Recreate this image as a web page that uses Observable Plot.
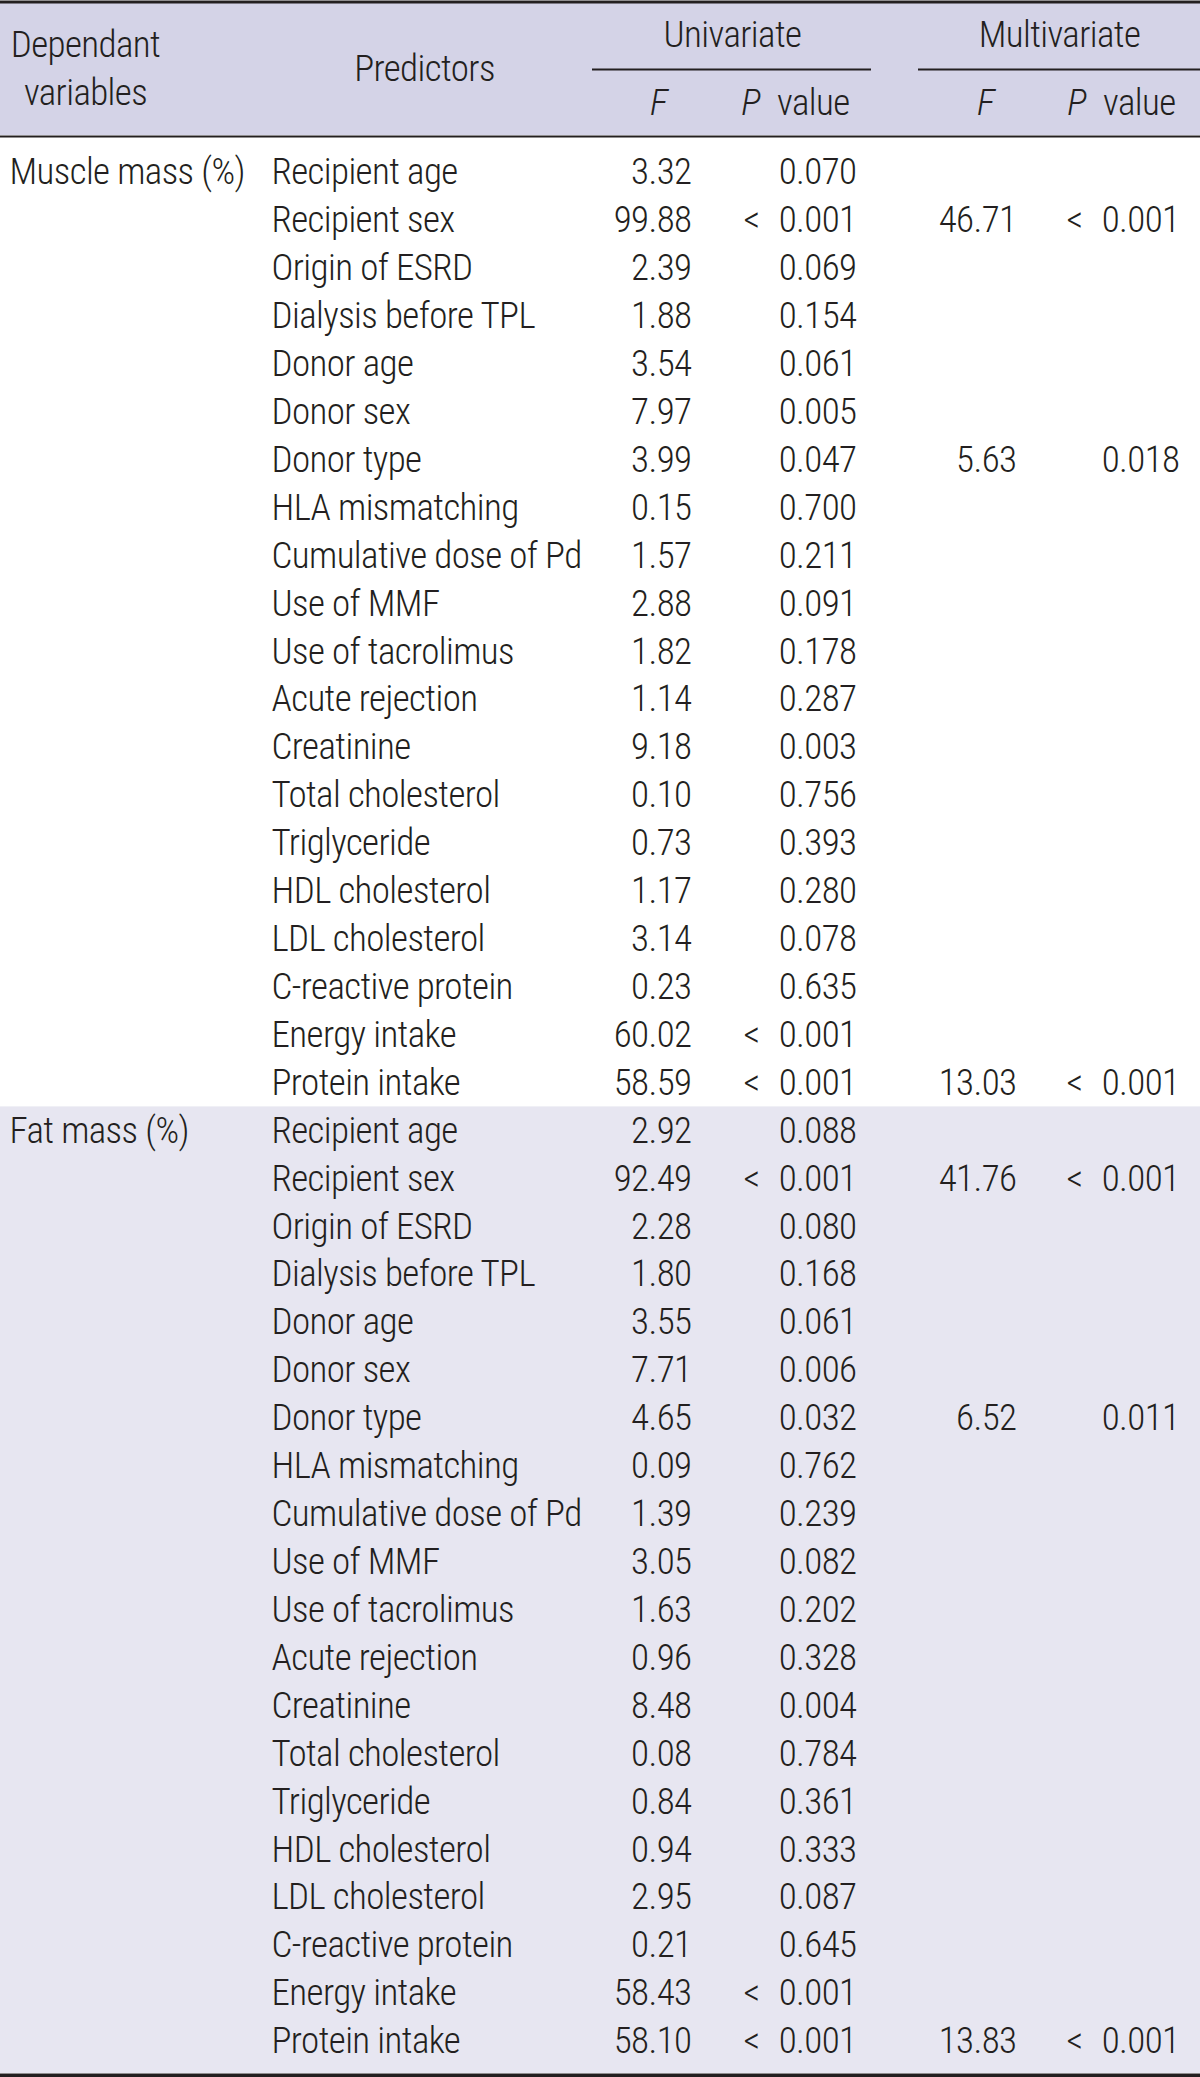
<!DOCTYPE html>
<html>
<head>
<meta charset="utf-8">
<script src="https://cdn.jsdelivr.net/npm/d3@7"></script>
<script src="https://cdn.jsdelivr.net/npm/@observablehq/plot@0.6"></script>
<style>
  html, body { margin: 0; padding: 0; background: #ffffff; }
  #chart svg { display: block; }
</style>
</head>
<body>
<div id="chart"></div>
<script>
// ---------- data ----------
const dependents = ["Muscle mass (%)", "Fat mass (%)"];
const predictors = [
  "Recipient age", "Recipient sex", "Origin of ESRD", "Dialysis before TPL",
  "Donor age", "Donor sex", "Donor type", "HLA mismatching",
  "Cumulative dose of Pd", "Use of MMF", "Use of tacrolimus", "Acute rejection",
  "Creatinine", "Total cholesterol", "Triglyceride", "HDL cholesterol",
  "LDL cholesterol", "C-reactive protein", "Energy intake", "Protein intake"
];
const muscleUniF = [3.32, 99.88, 2.39, 1.88, 3.54, 7.97, 3.99, 0.15, 1.57, 2.88, 1.82, 1.14, 9.18, 0.10, 0.73, 1.17, 3.14, 0.23, 60.02, 58.59];
const muscleUniP = ["0.070", "< 0.001", "0.069", "0.154", "0.061", "0.005", "0.047", "0.700", "0.211", "0.091", "0.178", "0.287", "0.003", "0.756", "0.393", "0.280", "0.078", "0.635", "< 0.001", "< 0.001"];
const muscleMultiF = [null, 46.71, null, null, null, null, 5.63, null, null, null, null, null, null, null, null, null, null, null, null, 13.03];
const muscleMultiP = [null, "< 0.001", null, null, null, null, "0.018", null, null, null, null, null, null, null, null, null, null, null, null, "< 0.001"];
const fatUniF = [2.92, 92.49, 2.28, 1.80, 3.55, 7.71, 4.65, 0.09, 1.39, 3.05, 1.63, 0.96, 8.48, 0.08, 0.84, 0.94, 2.95, 0.21, 58.43, 58.10];
const fatUniP = ["0.088", "< 0.001", "0.080", "0.168", "0.061", "0.006", "0.032", "0.762", "0.239", "0.082", "0.202", "0.328", "0.004", "0.784", "0.361", "0.333", "0.087", "0.645", "< 0.001", "< 0.001"];
const fatMultiF = [null, 41.76, null, null, null, null, 6.52, null, null, null, null, null, null, null, null, null, null, null, null, 13.83];
const fatMultiP = [null, "< 0.001", null, null, null, null, "0.011", null, null, null, null, null, null, null, null, null, null, null, null, "< 0.001"];

// ---------- layout ----------
const W = 1200, H = 2077;
const FONT = "'Roboto Condensed', 'Liberation Sans Narrow', 'Arial Narrow', sans-serif";
const FS = 37;
const FW = 300;
const LS = "-0.6px";
const INK = "#231f20";
const HEADER_BG = "#d4d3e7";
const SECTION_BG = "#e7e6f1";
const rowTop = 148, rowH = 47.92;
const col = { dep: 9, pred: 271, uF: 691, uP: 856, mF: 1016, mP: 1179 };

// table rows
const rows = [];
const groups = [
  [muscleUniF, muscleUniP, muscleMultiF, muscleMultiP],
  [fatUniF, fatUniP, fatMultiF, fatMultiP]
];
groups.forEach((g, gi) => {
  predictors.forEach((p, i) => {
    rows.push({
      idx: gi * predictors.length + i,
      dep: i === 0 ? dependents[gi] : null,
      pred: p,
      uF: g[0][i], uP: g[1][i], mF: g[2][i], mP: g[3][i]
    });
  });
});
const rowY = d => rowTop + rowH * (d.idx + 0.5);
const fmt = v => v == null ? null : v.toFixed(2);
// typographic spacing after "<" as in the printed table
const pfmt = s => s == null ? null : s.replace("< ", "<\u2002\u200a");

const bands = [
  {x1: 0, x2: W, y1: 3, y2: 135, fill: HEADER_BG},
  {x1: 0, x2: W, y1: rowTop + rowH * predictors.length, y2: 2073, fill: SECTION_BG}
];
const hrules = [
  {x1: 0, x2: W, y: 1.5, w: 3},
  {x1: 0, x2: W, y: 136, w: 2},
  {x1: 592, x2: 871, y: 69, w: 2},
  {x1: 918, x2: W, y: 69, w: 2},
  {x1: 0, x2: W, y: 2075, w: 4}
];
const headerCenter = [
  {x: 85, y: 45, t: "Dependant"},
  {x: 85, y: 93, t: "variables"},
  {x: 424, y: 69, t: "Predictors"},
  {x: 732, y: 35, t: "Univariate"},
  {x: 1059, y: 35, t: "Multivariate"}
];
const headerItalic = [
  {x: 658, y: 103, t: "F", a: "middle"},
  {x: 750, y: 103, t: "P", a: "start"},
  {x: 985, y: 103, t: "F", a: "middle"},
  {x: 1076, y: 103, t: "P", a: "start"}
];
const headerValue = [
  {x: 849, y: 103, t: "value"},
  {x: 1175, y: 103, t: "value"}
];

const textOpts = {fontFamily: FONT, fontSize: FS, fontWeight: FW, fill: INK, lineAnchor: "middle"};

const chart = Plot.plot({
  width: W,
  height: H,
  margin: 0,
  x: {domain: [0, W], range: [0, W], axis: null},
  y: {domain: [0, H], range: [0, H], axis: null},
  style: {background: "#ffffff", fontFamily: FONT, letterSpacing: LS},
  marks: [
    Plot.rect(bands, {x1: "x1", x2: "x2", y1: "y1", y2: "y2", fill: d => d.fill}),
    Plot.ruleY(hrules, {x1: "x1", x2: "x2", y: "y", stroke: "#231f20", strokeWidth: d => d.w}),
    Plot.text(headerCenter, {x: "x", y: "y", text: "t", textAnchor: "middle", ...textOpts}),
    Plot.text(headerItalic, {x: "x", y: "y", text: "t", textAnchor: d => d.a, fontStyle: "italic", ...textOpts}),
    Plot.text(headerValue, {x: "x", y: "y", text: "t", textAnchor: "end", ...textOpts}),
    Plot.text(rows.filter(d => d.dep), {x: () => col.dep, y: rowY, text: "dep", textAnchor: "start", ...textOpts}),
    Plot.text(rows, {x: () => col.pred, y: rowY, text: "pred", textAnchor: "start", ...textOpts}),
    Plot.text(rows, {x: () => col.uF, y: rowY, text: d => fmt(d.uF), textAnchor: "end", ...textOpts}),
    Plot.text(rows, {x: () => col.uP, y: rowY, text: d => pfmt(d.uP), textAnchor: "end", ...textOpts}),
    Plot.text(rows.filter(d => d.mF != null), {x: () => col.mF, y: rowY, text: d => fmt(d.mF), textAnchor: "end", ...textOpts}),
    Plot.text(rows.filter(d => d.mP != null), {x: () => col.mP, y: rowY, text: d => pfmt(d.mP), textAnchor: "end", ...textOpts})
  ]
});
document.getElementById("chart").appendChild(chart);
</script>
</body>
</html>
